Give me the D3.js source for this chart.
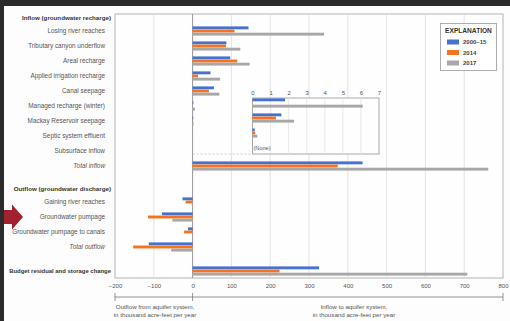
<!DOCTYPE html>
<html>
<head>
<meta charset="utf-8">
<script src="https://cdn.jsdelivr.net/npm/d3@7"></script>
<style>
  html, body { margin: 0; padding: 0; background: #fdfdfd; }
  svg { display: block; }
  text { font-family: "Liberation Sans Narrow", "Arial Narrow", "Liberation Sans", sans-serif; }
</style>
</head>
<body>
<svg id="chart" width="510" height="321"></svg>
<script>
// Water-budget components, thousand acre-feet per year
const inflowCategories = [
  "Losing river reaches", "Tributary canyon underflow", "Areal recharge",
  "Applied irrigation recharge", "Canal seepage", "Managed recharge (winter)",
  "Mackay Reservoir seepage", "Septic system effluent", "Subsurface inflow", "Total inflow"
];
const outflowCategories = [
  "Gaining river reaches", "Groundwater pumpage", "Groundwater pumpage to canals", "Total outflow"
];
const budgetCategory = "Budget residual and storage change";

const seriesNames = ["2000–15", "2014", "2017"];
const seriesColors = ["#4671cf", "#f4731f", "#a7a7a7"];

const inflow2000_15 = [144, 87, 97, 46, 55, 1.8, 1.6, 0.12, 0, 438];
const inflow2014    = [108, 86, 115, 14, 42, 0, 1.3, 0.15, 0, 374];
const inflow2017    = [339, 123, 147, 71, 69, 6.1, 2.3, 0.27, 0, 762];

const outflow2000_15 = [-26, -79, -12, -113];
const outflow2014    = [-18, -115, -22, -153];
const outflow2017    = [-2, -52, -1, -55];

const budget = [326, 224, 708];

const xTicks = [-200, -100, 0, 100, 200, 300, 400, 500, 600, 700, 800];
const insetTicks = [0, 1, 2, 3, 4, 5, 6, 7];
const insetCategories = ["Managed recharge (winter)", "Mackay Reservoir seepage", "Septic system effluent", "Subsurface inflow"];
const noneLabel = "(None)";

const svg = d3.select("#chart");
const W = 510, H = 321;

// page frame
svg.append("rect").attr("width", W).attr("height", H).attr("fill", "#fdfdfd");
svg.append("rect").attr("width", W).attr("height", 6).attr("fill", "#2b2b2b");
svg.append("rect").attr("width", 4).attr("height", H).attr("fill", "#2b2b2b");

const plot = { left: 115, right: 503, top: 14, bottom: 278 };
const x = d3.scaleLinear().domain([-200, 800]).range([plot.left, plot.right]);

// row slots: inflow rows 0..9, outflow rows after a gap, budget last
const slotY = d3.scaleLinear().domain([0, 1]).range([31, 46]);
const rows = [];
inflowCategories.forEach((c, i) => rows.push({ name: c, slot: i, vals: [inflow2000_15[i], inflow2014[i], inflow2017[i]], total: c === "Total inflow" }));
outflowCategories.forEach((c, i) => rows.push({ name: c, slot: 11.4 + i, vals: [outflow2000_15[i], outflow2014[i], outflow2017[i]], total: c === "Total outflow" }));
rows.push({ name: budgetCategory, slot: 16, vals: budget, header: true });

const barBand = d3.scaleBand().domain(seriesNames).range([-4.6, 4.6]).paddingInner(0.08);

// plot frame and gridlines
svg.append("rect")
  .attr("x", plot.left).attr("y", plot.top)
  .attr("width", plot.right - plot.left).attr("height", plot.bottom - plot.top)
  .attr("fill", "#fefefe").attr("stroke", "#b4b4b4").attr("stroke-width", 1);

svg.append("g").selectAll("line")
  .data(xTicks.filter(t => t > -200 && t < 800 && t !== 0))
  .join("line")
  .attr("x1", d => x(d)).attr("x2", d => x(d))
  .attr("y1", plot.top).attr("y2", plot.bottom)
  .attr("stroke", "#dcdcdc").attr("stroke-width", 0.8);

svg.append("line")
  .attr("x1", x(0)).attr("x2", x(0)).attr("y1", plot.top).attr("y2", plot.bottom)
  .attr("stroke", "#8a8a8a").attr("stroke-width", 0.9);

// bars
const barG = svg.append("g");
rows.forEach(r => {
  const cy = slotY(r.slot);
  barG.selectAll(null)
    .data(r.vals.map((v, i) => ({ v, s: seriesNames[i], c: seriesColors[i] })))
    .join("rect")
    .attr("x", d => x(Math.min(0, d.v)))
    .attr("width", d => Math.abs(x(d.v) - x(0)))
    .attr("y", d => cy + barBand(d.s))
    .attr("height", barBand.bandwidth())
    .attr("fill", d => d.c);
});

// row labels
const labelG = svg.append("g").attr("fill", "#555").attr("font-size", 6.4);
rows.forEach(r => {
  labelG.append("text")
    .attr("x", r.header ? 111 : 105)
    .attr("y", slotY(r.slot))
    .attr("dy", "0.35em")
    .attr("text-anchor", "end")
    .attr("font-weight", r.header ? "bold" : null)
    .attr("font-size", r.header ? 5.9 : null)
    .attr("fill", r.header ? "#333" : null)
    .attr("font-style", r.total ? "italic" : null)
    .text(r.name);
});
// section headers
[["Inflow (groundwater recharge)", slotY(0) - 13], ["Outflow (groundwater discharge)", slotY(11.4) - 13]]
  .forEach(([t, y]) => {
    labelG.append("text").attr("x", 111).attr("y", y).attr("dy", "0.35em")
      .attr("text-anchor", "end").attr("font-weight", "bold").attr("font-size", 6.2)
      .attr("fill", "#333").text(t);
  });

// bottom axis
const axis = d3.axisBottom(x).tickValues(xTicks).tickSize(0).tickPadding(6)
  .tickFormat(d => d < 0 ? "\u2212" + Math.abs(d) : d);
const axG = svg.append("g").attr("transform", `translate(0,${plot.bottom})`).call(axis);
axG.select(".domain").remove();
axG.selectAll("text").attr("font-size", 6).attr("fill", "#555")
  .attr("font-family", "'Liberation Sans Narrow', 'Arial Narrow', 'Liberation Sans', sans-serif");

// direction brackets under the axis
const brY = 297;
svg.append("line").attr("x1", x(-200)).attr("x2", x(800)).attr("y1", brY).attr("y2", brY)
  .attr("stroke", "#777").attr("stroke-width", 0.8);
[-200, 0, 800].forEach(v => {
  svg.append("line").attr("x1", x(v)).attr("x2", x(v)).attr("y1", brY - 4).attr("y2", brY + 4)
    .attr("stroke", "#777").attr("stroke-width", 0.8);
});
const noteG = svg.append("g").attr("font-size", 6.2).attr("fill", "#555").attr("text-anchor", "middle");
noteG.append("text").attr("x", 155).attr("y", 309).text("Outflow from aquifer system,");
noteG.append("text").attr("x", 155).attr("y", 317).text("in thousand acre-feet per year");
noteG.append("text").attr("x", 354).attr("y", 309).text("Inflow to aquifer system,");
noteG.append("text").attr("x", 354).attr("y", 317).text("in thousand acre-feet per year");

// inset: enlarged view of the small inflow terms
const xi = d3.scaleLinear().domain([0, 7]).range([252.5, 379]);
const insetTop = 98, insetBottom = 154;
svg.append("line").attr("x1", x(0)).attr("x2", xi(0)).attr("y1", insetBottom).attr("y2", insetBottom)
  .attr("stroke", "#b8c9b0").attr("stroke-width", 0.8).attr("stroke-dasharray", "2,2");
svg.append("rect")
  .attr("x", xi(0)).attr("y", insetTop).attr("width", xi(7) - xi(0)).attr("height", insetBottom - insetTop)
  .attr("fill", "#fefefe").attr("stroke", "#a9a9a9").attr("stroke-width", 1);
svg.append("g").selectAll("line").data(insetTicks.slice(1, -1)).join("line")
  .attr("x1", d => xi(d)).attr("x2", d => xi(d)).attr("y1", insetTop).attr("y2", insetBottom)
  .attr("stroke", "#e2e2e2").attr("stroke-width", 0.8);
const insAxis = d3.axisTop(xi).tickValues(insetTicks).tickSize(0).tickPadding(3).tickFormat(d3.format("d"));
const insAx = svg.append("g").attr("transform", `translate(0,${insetTop})`).call(insAxis);
insAx.select(".domain").remove();
insAx.selectAll("text").attr("font-size", 6).attr("fill", "#555")
  .attr("font-family", "'Liberation Sans Narrow', 'Arial Narrow', 'Liberation Sans', sans-serif");

const insetG = svg.append("g");
rows.filter(r => insetCategories.includes(r.name)).forEach(r => {
  const cy = slotY(r.slot);
  if (r.vals.every(v => v === 0)) {
    insetG.append("text").attr("x", xi(0) + 1).attr("y", cy - 3).attr("dy", "0.35em")
      .attr("font-size", 5.6).attr("fill", "#555").text(noneLabel);
    return;
  }
  insetG.selectAll(null)
    .data(r.vals.map((v, i) => ({ v, s: seriesNames[i], c: seriesColors[i] })))
    .join("rect")
    .attr("x", xi(0))
    .attr("width", d => xi(d.v) - xi(0))
    .attr("y", d => cy + barBand(d.s) - 3)
    .attr("height", barBand.bandwidth())
    .attr("fill", d => d.c);
});

// legend
const lg = svg.append("g");
lg.append("rect").attr("x", 440.5).attr("y", 23.5).attr("width", 56).attr("height", 47)
  .attr("fill", "#fff").attr("stroke", "#9a9a9a").attr("stroke-width", 0.8);
lg.append("text").attr("x", 468.5).attr("y", 33).attr("text-anchor", "middle")
  .attr("font-size", 6.6).attr("font-weight", "bold").attr("fill", "#333").text("EXPLANATION");
seriesNames.forEach((s, i) => {
  const yy = 42 + i * 10.5;
  lg.append("rect").attr("x", 447).attr("y", yy - 2.5).attr("width", 12).attr("height", 5).attr("fill", seriesColors[i]);
  lg.append("text").attr("x", 463).attr("y", yy).attr("dy", "0.35em").attr("font-size", 6)
    .attr("font-weight", "bold").attr("fill", "#444").text(s);
});

// pointer arrow at the pumpage row
const pumpY = slotY(12.4);
const arrow = d3.path();
arrow.moveTo(4, pumpY - 7);
arrow.lineTo(12, pumpY - 7);
arrow.lineTo(12, pumpY - 12.5);
arrow.lineTo(23, pumpY);
arrow.lineTo(12, pumpY + 12.5);
arrow.lineTo(12, pumpY + 7);
arrow.lineTo(4, pumpY + 7);
arrow.closePath();
svg.append("path").attr("d", arrow.toString()).attr("fill", "#a3202f");
</script>
</body>
</html>
